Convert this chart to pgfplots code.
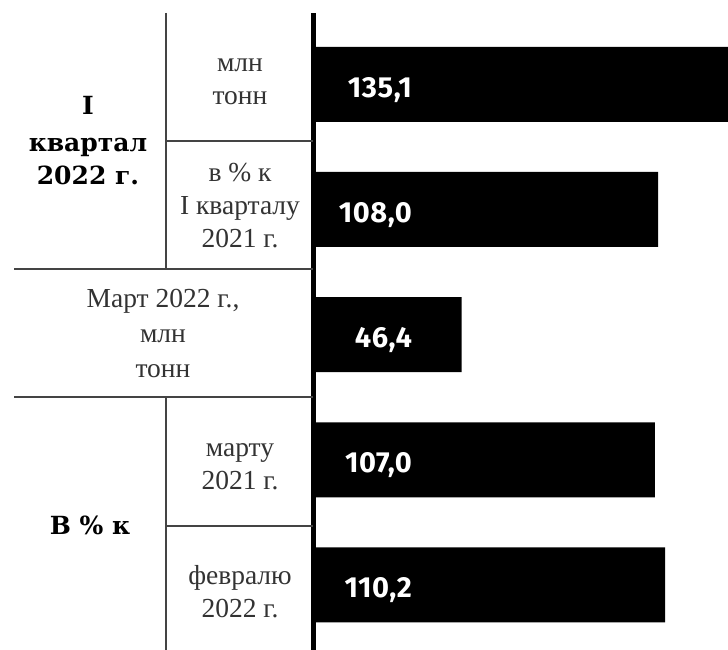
\documentclass[border=0pt]{standalone}
\usepackage{pgfplots}
\pgfplotsset{compat=1.18}
\usepackage{fontspec}
\setmainfont{Liberation Serif}
\newfontfamily\boldserif{DejaVu Serif}
\newfontfamily\valfont[LetterSpace=2]{Fira Sans}
\definecolor{txt}{HTML}{333333}
\definecolor{rule}{HTML}{444444}
\tikzset{vallbl/.style={anchor=base east, text=white, inner sep=0pt, yshift=-13bp,
        font=\valfont\bfseries\fontsize{29bp}{32bp}\selectfont}}
\begin{document}
\begin{tikzpicture}
\path[use as bounding box] (0bp,0bp) rectangle (728bp,650bp);
\begin{axis}[
  at={(313.5bp,0bp)}, anchor=south west,
  scale only axis, width=414.5bp, height=637bp,
  xbar, bar width=75bp,
  xmin=0, xmax=129.9,
  ymin=-0.57, ymax=4.52, y dir=reverse,
  hide axis,
  clip=true,
]
\addplot[fill=black, draw=none] coordinates {(135.1,0) (108.0,1) (46.4,2) (107.0,3) (110.2,4)};
\node[vallbl] at (axis cs:30.9,0) {135,1};
\node[vallbl] at (axis cs:30.9,1) {108,0};
\node[vallbl] at (axis cs:30.9,2) {46,4};
\node[vallbl] at (axis cs:30.9,3) {107,0};
\node[vallbl] at (axis cs:30.9,4) {110,2};
\end{axis}
\draw[line width=5bp, black] (313.5bp,0bp) -- (313.5bp,637bp);
% table rules
\begin{scope}[draw=rule, line width=1.2bp]
\draw (166bp,637bp) -- (166bp,381bp);
\draw (166bp,253bp) -- (166bp,0bp);
\draw (166bp,509bp) -- (313bp,509bp);
\draw (14bp,381bp) -- (313bp,381bp);
\draw (14bp,253bp) -- (313bp,253bp);
\draw (166bp,124bp) -- (313bp,124bp);
\end{scope}
% bold labels
\begin{scope}[every node/.style={anchor=base, inner sep=0pt, text=black,
  font=\boldserif\bfseries\fontsize{25bp}{28bp}\selectfont}]
\node at (88bp,535bp) {I};
\node at (88bp,498bp) {квартал};
\node at (88bp,465bp) {2022 г.};
\node at (90bp,115bp) {В \% к};
\end{scope}
% regular labels
\begin{scope}[every node/.style={anchor=base, inner sep=0pt, text=txt,
  font=\fontsize{27.5bp}{30bp}\selectfont}]
\node at (240bp,578bp) {млн};
\node at (240bp,545bp) {тонн};
\node at (240bp,468bp) {в \% к};
\node at (240bp,435bp) {I кварталу};
\node at (240bp,402bp) {2021 г.};
\node at (163bp,342bp) {Март 2022 г.,};
\node at (163bp,307bp) {млн};
\node at (163bp,272bp) {тонн};
\node at (240bp,193bp) {марту};
\node at (240bp,160bp) {2021 г.};
\node at (240bp,65bp) {февралю};
\node at (240bp,33bp) {2022 г.};
\end{scope}
\end{tikzpicture}
\end{document}
